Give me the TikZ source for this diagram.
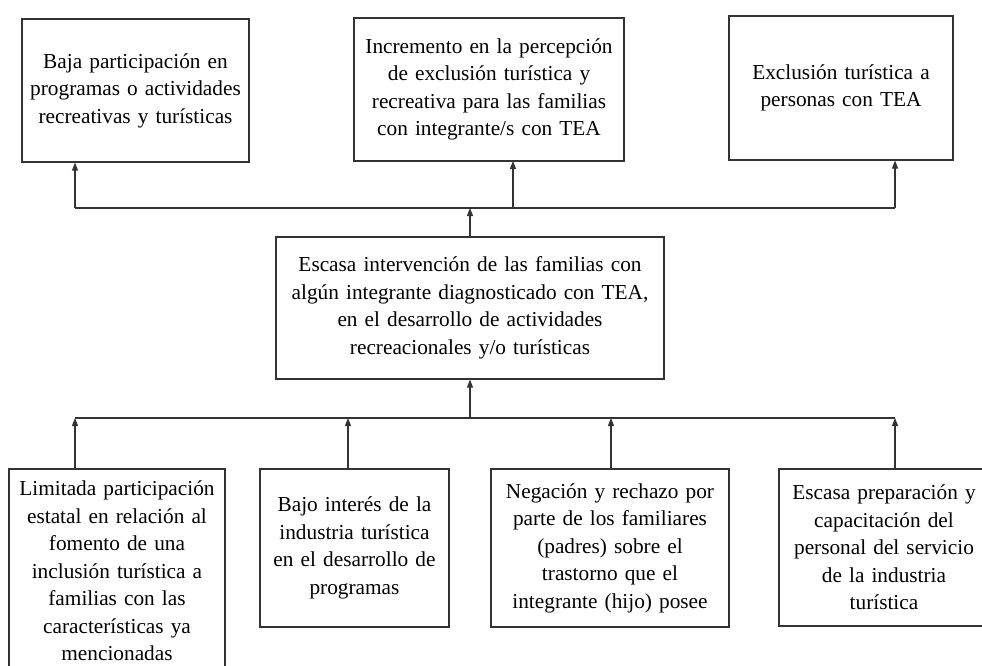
\documentclass[tikz,border=0pt]{standalone}
\usepackage{fontspec}
\setmainfont{Liberation Serif}
\usetikzlibrary{arrows.meta}
\tikzset{box/.style = {draw, black!80, line width = 1.1pt, text = black, align = center, inner sep = 0, font = \fontsize{21.3}{27.5}\selectfont}}
\tikzset{link/.style = {black!80, line width = 1.1pt}}
\tikzset{arr/.style = {link, -{Triangle[length = 8pt, width = 6pt]}}}

\begin{document}
\begin{tikzpicture}[x = 1pt, y = -1pt]
    \useasboundingbox (0, 0) rectangle (982, 666);

    % effects
    \node [box, minimum width = 227, minimum height = 143, text width = 220] (eff1) at (135.5, 90.5)
    {Baja participación en\\programas o actividades\\recreativas y turísticas};
    \node [box, minimum width = 270, minimum height = 143, text width = 262] (eff2) at (489, 89.5)
    {Incremento en la percepción\\de exclusión turística y\\recreativa para las familias\\con integrante/s con TEA};
    \node [box, minimum width = 224, minimum height = 144, text width = 216] (eff3) at (841, 88)
    {Exclusión turística a\\personas con TEA};

    % problem
    \node [box, minimum width = 388, minimum height = 142, text width = 380] (prob) at (470, 308)
    {Escasa intervención de las familias con\\algún integrante diagnosticado con TEA,\\en el desarrollo de actividades\\recreacionales y/o turísticas};

    % causes
    \node [box, minimum width = 216, minimum height = 204, text width = 210] (cause1) at (117, 571)
    {Limitada participación\\estatal en relación al\\fomento de una\\inclusión turística a\\familias con las\\características ya\\mencionadas};
    \node [box, minimum width = 189, minimum height = 158, text width = 182] (cause2) at (354.5, 548)
    {Bajo interés de la\\industria turística\\en el desarrollo de\\programas};
    \node [box, minimum width = 238, minimum height = 158, text width = 230] (cause3) at (610, 548)
    {Negación y rechazo por\\parte de los familiares\\(padres) sobre el\\trastorno que el\\integrante (hijo) posee};
    \node [box, minimum width = 210, minimum height = 157, text width = 204] (cause4) at (884, 547.5)
    {Escasa preparación y\\capacitación del\\personal del servicio\\de la industria\\turística};

    % upper branch
    \coordinate (upL) at (75, 208);
    \coordinate (upR) at (895, 208);
    \coordinate (upM) at (470, 208);
    \draw [link] (upL) -- (upR);
    \draw [arr] (prob.north) -- (upM);
    \draw [arr] (upL) -- (upL |- eff1.south);
    \draw [arr] (513, 208) -- (513, 161);
    \draw [arr] (upR) -- (upR |- eff3.south);

    % lower branch
    \coordinate (loL) at (75, 418);
    \coordinate (loR) at (895, 418);
    \coordinate (loM) at (470, 418);
    \draw [link] (loL) -- (loR);
    \draw [arr] (loM) -- (prob.south);
    \draw [arr] (loL |- cause1.north) -- (loL);
    \draw [arr] (348, 469) -- (348, 418);
    \draw [arr] (611, 469) -- (611, 418);
    \draw [arr] (loR |- cause4.north) -- (loR);
\end{tikzpicture}
\end{document}
